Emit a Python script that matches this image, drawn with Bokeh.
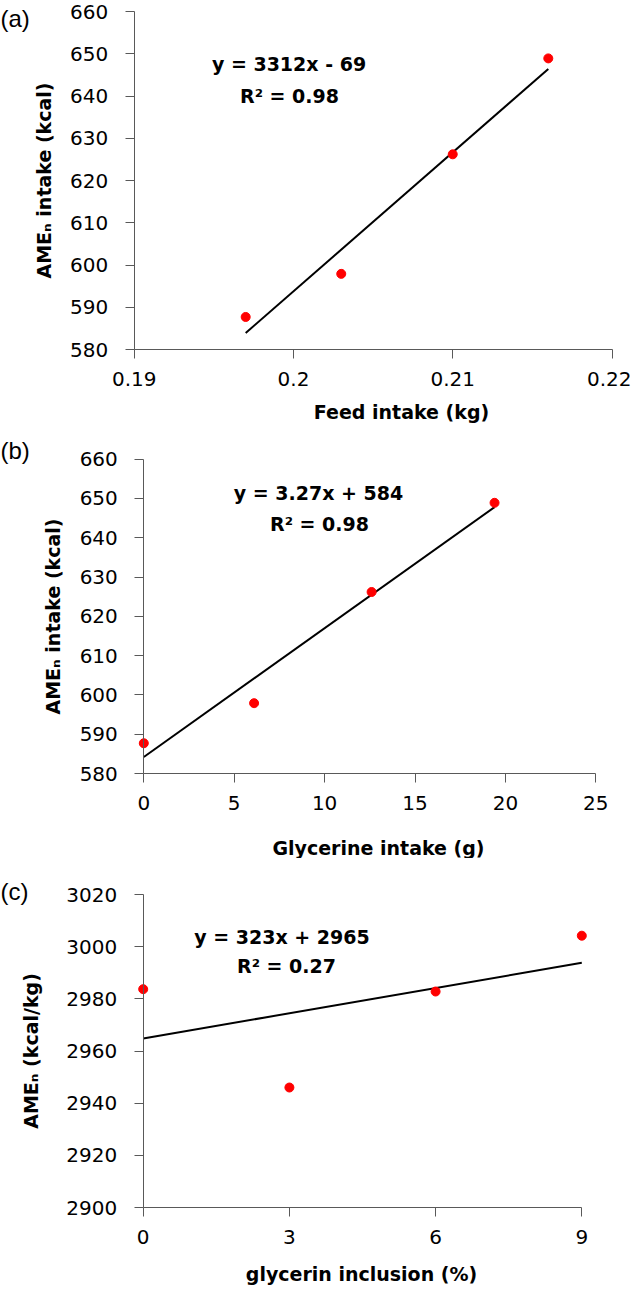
from bokeh.plotting import figure
from bokeh.models import Range1d, FixedTicker, Label, CustomJSTickFormatter
from bokeh.layouts import column
from bokeh.embed import file_html
from bokeh.resources import INLINE

# ---------------- data ----------------
# Panel (a): AMEn intake vs feed intake
feed_intake_kg = [0.197, 0.203, 0.210, 0.216]
ame_intake_kcal = [587.7, 597.9, 626.2, 648.9]
trend_a_x = [0.197, 0.216]
trend_a_y = [583.9, 646.4]
eq_a = ["y = 3312x - 69", "R² = 0.98"]

# Panel (b): AMEn intake vs glycerine intake
glycerine_intake_g = [0.0, 6.1, 12.6, 19.4]
ame_intake_kcal_b = [587.7, 597.9, 626.2, 648.9]
trend_b_x = [0.0, 19.4]
trend_b_y = [584.2, 647.8]
eq_b = ["y = 3.27x + 584", "R² = 0.98"]

# Panel (c): AMEn vs glycerin inclusion
glycerin_inclusion_pct = [0, 3, 6, 9]
ame_n_kcal_kg = [2983.7, 2946.0, 2982.8, 3004.2]
trend_c_x = [0, 9]
trend_c_y = [2964.8, 2993.8]
eq_c = ["y = 323x + 2965", "R² = 0.27"]

# ticks
a_xticks = [0.19, 0.2, 0.21, 0.22]
ab_yticks = [580, 590, 600, 610, 620, 630, 640, 650, 660]
b_xticks = [0, 5, 10, 15, 20, 25]
c_xticks = [0, 3, 6, 9]
c_yticks = [2900, 2920, 2940, 2960, 2980, 3000, 3020]

# ---------------- styling ----------------
W = 631
AXIS_COLOR = "#595959"
FONT = "DejaVu Sans"


def panel(page_top, height, dy, ref_frame, xr, yr, xticks, yticks, ylabel, ylabel_standoff,
          xs, ys, tx, ty, eq, eq_pos, xtitle, xtitle_pos, letter, letter_y):
    L, R, T, B = ref_frame

    def fx(px):
        return xr[0] + (px - L) / (R - L) * (xr[1] - xr[0])

    def fy(py):
        return yr[1] - (py - T) / (B - T) * (yr[1] - yr[0])

    ref_top = page_top - dy
    ref_bottom = page_top + height - dy
    p = figure(width=W, height=height, output_backend="svg", toolbar_location=None,
               x_range=Range1d(fx(8), fx(8 + W)),
               y_range=Range1d(fy(ref_bottom), fy(ref_top)),
               min_border=0, min_border_top=0, min_border_bottom=0,
               min_border_left=0, min_border_right=0)
    p.title.visible = False
    p.outline_line_color = None
    p.xgrid.visible = False
    p.ygrid.visible = False
    p.background_fill_color = "white"
    p.border_fill_color = "white"

    xa, ya = p.xaxis[0], p.yaxis[0]
    xa.fixed_location = yr[0]
    ya.fixed_location = xr[0]
    xa.bounds = xr
    ya.bounds = yr
    for ax in (xa, ya):
        ax.axis_line_color = AXIS_COLOR
        ax.axis_line_width = 1
        ax.major_tick_line_color = AXIS_COLOR
        ax.major_tick_out = 9
        ax.major_tick_in = 0
        ax.minor_tick_line_color = None
        ax.major_label_text_font = FONT
        ax.major_label_text_font_size = "20px"
        ax.major_label_text_color = "black"
    xa.ticker = FixedTicker(ticks=xticks)
    ya.ticker = FixedTicker(ticks=yticks)
    xa.formatter = CustomJSTickFormatter(code="return String(tick);")
    xa.major_label_standoff = 13
    ya.major_label_standoff = 17

    ya.axis_label = ylabel
    ya.axis_label_text_font = FONT
    ya.axis_label_text_font_style = "bold"
    ya.axis_label_text_font_size = "19px"
    ya.axis_label_text_color = "black"
    ya.axis_label_standoff = ylabel_standoff

    p.line(tx, ty, line_color="black", line_width=2)
    p.scatter(xs, ys, size=9, fill_color="#ff0000", line_color="#ff0000")

    for text, (cx, by) in zip(eq, eq_pos):
        p.add_layout(Label(x=fx(cx), y=fy(by), text=text, text_align="center",
                           text_baseline="alphabetic", text_font=FONT,
                           text_font_style="bold", text_font_size="19px",
                           text_color="black"))
    p.add_layout(Label(x=fx(xtitle_pos[0]), y=fy(xtitle_pos[1]), text=xtitle,
                       text_align="center", text_baseline="middle",
                       text_font=FONT, text_font_style="bold",
                       text_font_size="19px", text_color="black"))
    p.add_layout(Label(x=fx(8), y=fy(letter_y), text=letter, text_align="left",
                       text_baseline="middle", text_font="Liberation Sans",
                       text_font_size="24px", text_color="black"))
    return p


pa = panel(8, 431, 11, (141.7, 619.5, 8, 346), (0.19, 0.22), (580, 660), a_xticks, ab_yticks,
           "AMEₙ intake (kcal)", 12, feed_intake_kg, ame_intake_kcal, trend_a_x, trend_a_y,
           eq_a, [(296.5, 60), (297, 92)], "Feed intake (kg)", (409, 408), "(a)", 15)

pb = panel(439, 427, 5, (151.3, 603.3, 461.7, 776), (0, 25), (580, 660), b_xticks, ab_yticks,
           "AMEₙ intake (kcal)", 12, glycerine_intake_g, ame_intake_kcal_b, trend_b_x, trend_b_y,
           eq_b, [(326, 495), (327, 526.5)], "Glycerine intake (g)", (386, 850), "(b)", 453)

pc = panel(866, 427, 1, (150.7, 589.3, 901, 1214), (0, 9), (2900, 3020), c_xticks, c_yticks,
           "AMEₙ (kcal/kg)", 22, glycerin_inclusion_pct, ame_n_kcal_kg, trend_c_x, trend_c_y,
           eq_c, [(289.5, 943), (294, 972.5)], "glycerin inclusion (%)", (369, 1280), "(c)", 898)

layout = column(pa, pb, pc, spacing=0)
open("out.html", "w").write(file_html(layout, INLINE))
